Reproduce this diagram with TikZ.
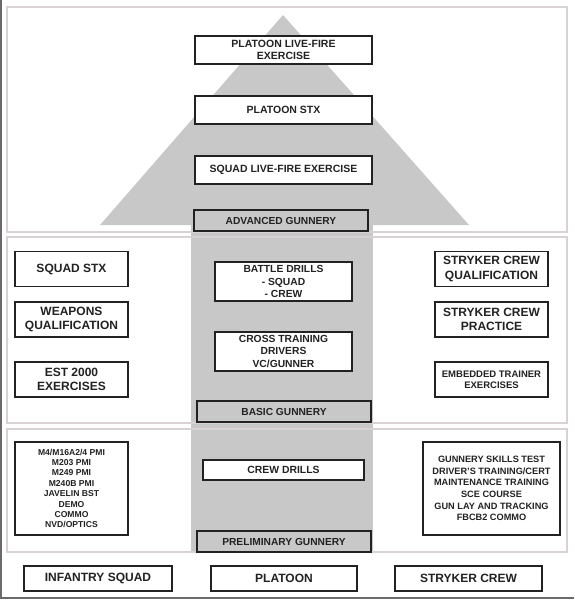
\documentclass[tikz,border=0pt]{standalone}
\usepackage{fontspec}
\setmainfont{Liberation Sans}
\usepackage{xcolor}
\usepackage{tikz}
\usetikzlibrary{shapes.geometric, backgrounds}
\definecolor{pyramidgray}{HTML}{C8C8C8}
\definecolor{bandline}{HTML}{D9D2D2}
\definecolor{ink}{HTML}{222222}
\definecolor{frameline}{HTML}{6A6A6A}
\tikzstyle{band} = [draw=bandline, line width=1.2pt]
\tikzstyle{box} = [rectangle, draw=ink, fill=white, line width=1.3pt, text=ink, align=center, inner sep=0pt]
\tikzstyle{centerbox} = [box, minimum width=177pt, minimum height=28pt, font=\fontsize{10.5}{12.3}\selectfont\bfseries]
\tikzstyle{sidebox} = [box, minimum width=113pt, minimum height=35pt, font=\fontsize{12}{14.7}\selectfont\bfseries]
\tikzstyle{drillbox} = [box, minimum width=137pt, minimum height=39pt, font=\fontsize{10.3}{12.6}\selectfont\bfseries]
\tikzstyle{gunnery} = [box, fill=pyramidgray, line width=2.2pt, minimum width=174pt, minimum height=21pt, font=\fontsize{10.2}{12}\selectfont\bfseries]
\tikzstyle{listbox} = [box, minimum height=93pt]
\tikzstyle{unitbox} = [box, minimum height=25pt, font=\fontsize{12}{14}\selectfont\bfseries]

\begin{document}
\begin{tikzpicture}[x=1pt, y=-1pt]
    \useasboundingbox (0,0) rectangle (574,600);

        % shading
        \fill [pyramidgray] (100,225) -- (283,15) -- (469,225) -- cycle;
        \fill [pyramidgray] (191,225) rectangle (373,552);

        % bands
        \draw [band] (7,7) rectangle (567,232);
        \draw [band] (7,237) rectangle (567,423);
        \draw [band] (7,429) rectangle (567,552);
        \draw [frameline, line width=1.6pt] (1,0) |- (574,598);

        % top band
        \node (platoon_lfx) [centerbox] at (283.5,50) {PLATOON LIVE-FIRE\\EXERCISE};
        \node (platoon_stx) [centerbox] at (283.5,110) {PLATOON STX};
        \node (squad_lfx) [centerbox] at (283.5,170) {SQUAD LIVE-FIRE EXERCISE};
        \node (advanced_gunnery) [gunnery] at (281,220.5) {ADVANCED GUNNERY};

        % middle band
        \node (squad_stx) [sidebox] at (71.5,269) {SQUAD STX};
        \node (weapons_qual) [sidebox] at (71.5,319.5) {WEAPONS\\QUALIFICATION};
        \node (est_2000) [sidebox] at (71.5,379.5) {EST 2000\\EXERCISES};
        \node (battle_drills) [drillbox] at (283.5,281.5) {BATTLE DRILLS\\- SQUAD\\- CREW};
        \node (cross_training) [drillbox] at (283.5,351.5) {CROSS TRAINING\\DRIVERS\\VC/GUNNER};
        \node (basic_gunnery) [gunnery] at (284,411.5) {BASIC GUNNERY};
        \node (crew_qual) [sidebox] at (491.5,269) {STRYKER CREW\\QUALIFICATION};
        \node (crew_practice) [sidebox] at (491.5,319.5) {STRYKER CREW\\PRACTICE};
        \node (embedded_trainer) [sidebox, font=\fontsize{9.5}{11}\selectfont\bfseries] at (491.5,379.5) {EMBEDDED TRAINER\\EXERCISES};

        % bottom band
        \node (squad_pmi) [listbox, minimum width=113pt, font=\fontsize{8.6}{10.4}\selectfont\bfseries] at (71.5,488.5) {M4/M16A2/4 PMI\\M203 PMI\\M249 PMI\\M240B PMI\\JAVELIN BST\\DEMO\\COMMO\\NVD/OPTICS};
        \node (crew_drills) [box, minimum width=161pt, minimum height=20pt, font=\fontsize{10.4}{12}\selectfont\bfseries] at (283.5,470) {CREW DRILLS};
        \node (preliminary_gunnery) [gunnery] at (284,541.5) {PRELIMINARY GUNNERY};
        \node (crew_skills) [listbox, minimum width=137pt, font=\fontsize{9.2}{11.6}\selectfont\bfseries] at (491.5,488.5) {GUNNERY SKILLS TEST\\DRIVER'S TRAINING/CERT\\MAINTENANCE TRAINING\\SCE COURSE\\GUN LAY AND TRACKING\\FBCB2 COMMO};

        % units
        \node (infantry_squad) [unitbox, minimum width=148pt] at (98,578.5) {INFANTRY SQUAD};
        \node (platoon) [unitbox, minimum width=146pt] at (284,578.5) {PLATOON};
        \node (stryker_crew) [unitbox, minimum width=147pt] at (468.5,578.5) {STRYKER CREW};

    \end{tikzpicture}
\end{document}
